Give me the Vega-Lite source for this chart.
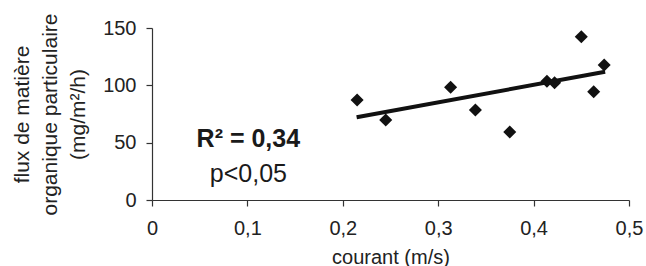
{
  "$schema": "https://vega.github.io/schema/vega-lite/v6.json",
  "autosize": {"type": "none"},
  "width": 477,
  "height": 172,
  "padding": {"left": 152, "top": 28, "right": 17, "bottom": 66},
  "background": "white",
  "config": {
    "view": {"stroke": null},
    "font": "Liberation Sans",
    "axis": {"grid": false, "domainColor": "#333", "tickColor": "#333", "labelColor": "#222", "titleColor": "#222", "labelFont": "Liberation Sans", "titleFont": "Liberation Sans", "labelFontSize": 20, "titleFontWeight": "normal", "domainWidth": 1.2, "tickWidth": 1.2},
    "style": {"guide-title": {"lineHeight": 28}}
  },
  "datasets": {
    "pts": [
      {"courant": 0.215, "flux": 87.2},
      {"courant": 0.245, "flux": 69.8},
      {"courant": 0.313, "flux": 98.3},
      {"courant": 0.339, "flux": 78.5},
      {"courant": 0.375, "flux": 59.3},
      {"courant": 0.414, "flux": 103.5},
      {"courant": 0.422, "flux": 102.3},
      {"courant": 0.45, "flux": 142.4},
      {"courant": 0.463, "flux": 94.4},
      {"courant": 0.474, "flux": 117.7}
    ],
    "fit": [
      {"courant": 0.2145, "flux": 72.1},
      {"courant": 0.475, "flux": 111.9}
    ],
    "r2": [
      {"courant": 0.101, "flux": 46.5, "txt": "R² = 0,34"}
    ],
    "pval": [
      {"courant": 0.101, "flux": 16, "txt": "p<0,05"}
    ]
  },
  "layer": [
    {
      "data": {"name": "pts"},
      "mark": {"type": "point", "shape": "diamond", "filled": true, "size": 170, "color": "#111", "opacity": 1},
      "encoding": {
        "x": {"field": "courant", "type": "quantitative", "scale": {"domain": [0, 0.5], "nice": false, "zero": true},
          "axis": {"values": [0, 0.1, 0.2, 0.3, 0.4, 0.5], "labelExpr": "replace(format(datum.value, '.1~f'), '.', ',')", "tickSize": 6, "labelPadding": 12, "title": "courant (m/s)", "titleFontSize": 20, "titlePadding": 9, "labelFlush": false}},
        "y": {"field": "flux", "type": "quantitative", "scale": {"domain": [0, 150], "nice": false},
          "axis": {"values": [0, 50, 100, 150], "tickSize": 6, "labelPadding": 10, "title": ["flux de matière", "organique particulaire", "(mg/m²/h)"], "titleFontSize": 21, "titleLineHeight": 28, "titlePadding": 14, "labelFlush": false}}
      }
    },
    {
      "data": {"name": "fit"},
      "mark": {"type": "line", "color": "#111", "strokeWidth": 4},
      "encoding": {
        "x": {"field": "courant", "type": "quantitative"},
        "y": {"field": "flux", "type": "quantitative"}
      }
    },
    {
      "data": {"name": "r2"},
      "mark": {"type": "text", "fontSize": 25, "fontWeight": "bold", "align": "center", "baseline": "alphabetic", "color": "#1a1a1a", "font": "Liberation Sans"},
      "encoding": {
        "x": {"field": "courant", "type": "quantitative"},
        "y": {"field": "flux", "type": "quantitative"},
        "text": {"field": "txt"}
      }
    },
    {
      "data": {"name": "pval"},
      "mark": {"type": "text", "fontSize": 25, "align": "center", "baseline": "alphabetic", "color": "#1a1a1a", "font": "Liberation Sans"},
      "encoding": {
        "x": {"field": "courant", "type": "quantitative"},
        "y": {"field": "flux", "type": "quantitative"},
        "text": {"field": "txt"}
      }
    }
  ]
}
